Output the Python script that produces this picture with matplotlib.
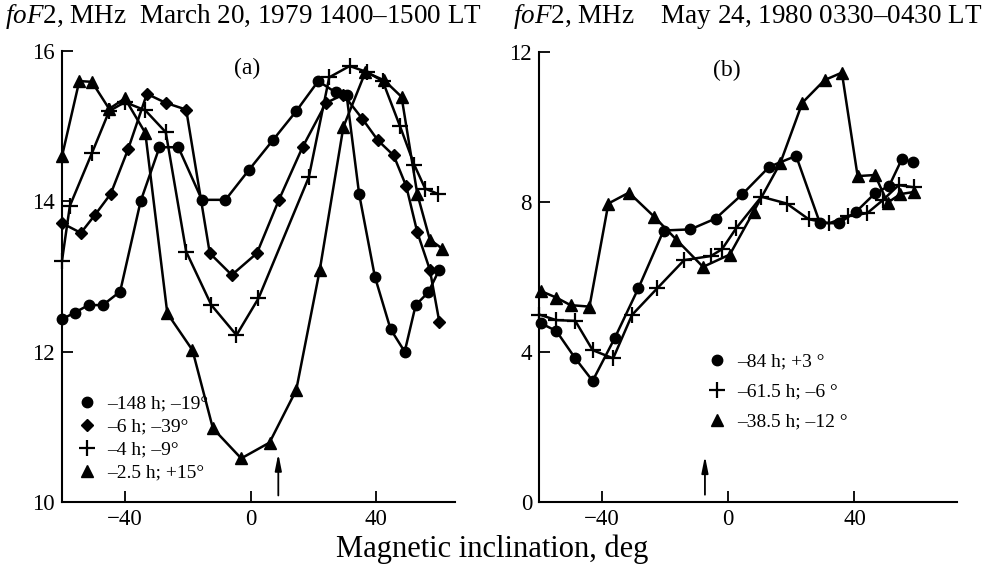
import matplotlib
matplotlib.use('Agg')
import matplotlib.pyplot as plt
from matplotlib.lines import Line2D

plt.rcParams['font.family'] = ['Liberation Serif', 'DejaVu Serif']
plt.rcParams['mathtext.fontset'] = 'custom'
plt.rcParams['mathtext.rm'] = 'Liberation Serif'
plt.rcParams['mathtext.it'] = 'Liberation Serif:italic'

# ---- panel (a): March 20, 1979 ----
circ_a_x = [-60, -56, -51.5, -47, -41.5, -35, -29, -23, -15.5, -8, -0.5, 7, 14.5, 21.5, 27, 30.5,
            34.5, 39.5, 44.5, 49, 52.5, 56.5, 60]
circ_a_y = [12.43, 12.52, 12.62, 12.62, 12.8, 14.0, 14.72, 14.72, 14.02, 14.02, 14.42, 14.81, 15.2, 15.6,
            15.45, 15.42, 14.1, 13.0, 12.3, 12.0, 12.62, 12.79, 13.09]

diam_a_x = [-60, -54, -49.5, -44.5, -39, -33, -27, -20.5, -13, -6, 2, 9, 16.5, 24, 29.5,
            35.5, 40.5, 45.5, 49.5, 53, 57, 60]
diam_a_y = [13.71, 13.58, 13.82, 14.1, 14.69, 15.43, 15.31, 15.22, 13.31, 13.02, 13.31, 14.02, 14.72,
            15.31, 15.42, 15.1, 14.81, 14.61, 14.2, 13.59, 13.09, 12.4]

cross_a_x = [-60, -57.5, -50.5, -45, -40, -33.5, -27, -20.5, -12.5, -4.5, 2.5, 18.5, 25, 31.5,
             37, 42, 47.5, 52, 55.5, 59.5]
cross_a_y = [13.21, 13.94, 14.64, 15.2, 15.32, 15.21, 14.92, 13.33, 12.62, 12.22, 12.71, 14.32, 15.65,
             15.8, 15.72, 15.6, 15.0, 14.49, 14.17, 14.1]

tri_a_x = [-60, -54.5, -50.5, -45, -40, -33.5, -26.5, -18.5, -12, -3, 6, 14.5, 22, 29.5, 36.5,
           42.5, 48, 53, 57, 61]
tri_a_y = [14.6, 15.6, 15.59, 15.23, 15.37, 14.91, 12.51, 12.02, 10.98, 10.58, 10.79, 11.49, 13.09,
           14.99, 15.72, 15.61, 15.39, 14.1, 13.49, 13.37]

labels_a = ['\u2013148 h; \u201319\u00b0', '\u20136 h; \u201339\u00b0',
            '\u20134 h; \u20139\u00b0', '\u20132.5 h; +15\u00b0']

# ---- panel (b): May 24, 1980 ----
circ_b_x = [-59.5, -54.5, -48.5, -43, -36, -28.5, -20.5, -12, -4, 4.5, 13, 21.5, 29, 35, 40.5,
            46.5, 51, 55, 58.5]
circ_b_y = [4.77, 4.56, 3.83, 3.23, 4.37, 5.7, 7.24, 7.27, 7.56, 8.21, 8.94, 9.23, 7.45, 7.43, 7.74,
            8.23, 8.43, 9.14, 9.07]

cross_b_x = [-60, -54.5, -48.5, -43, -36.5, -30.5, -22.5, -14, -5.5, -2, 2.5, 10.5, 18.5, 25.5,
             32, 38, 44, 49, 54, 59]
cross_b_y = [5.0, 4.85, 4.83, 4.05, 3.83, 4.99, 5.7, 6.45, 6.56, 6.74, 7.3, 8.14, 7.96, 7.54,
             7.43, 7.63, 7.7, 8.05, 8.45, 8.39]

tri_b_x = [-59.5, -54.5, -50, -44, -38, -31.5, -23.5, -16.5, -8, 0.5, 8, 16.5, 23.5, 30.5, 36,
           41, 46.5, 50.5, 54.5, 59]
tri_b_y = [5.63, 5.45, 5.25, 5.21, 7.96, 8.25, 7.61, 7.0, 6.27, 6.6, 7.74, 9.04, 10.65, 11.25,
           11.45, 8.69, 8.72, 7.98, 8.21, 8.27]

labels_b = ['\u201384 h; +3 \u00b0', '\u201361.5 h; \u20136 \u00b0', '\u201338.5 h; \u201312 \u00b0']

arrow_a = 8.8
arrow_b = -7.4

fig = plt.figure(figsize=(9.86, 5.64), dpi=100)
ax1 = fig.add_axes([62 / 986, 62 / 564, 393 / 986, 451 / 564])
ax2 = fig.add_axes([539 / 986, 62 / 564, 418 / 986, 450 / 564])

lw = 1.8
styles = {
    'o': dict(marker='o', ms=7.5),
    'D': dict(marker='D', ms=6.5),
    '+': dict(marker='+', ms=12, mew=1.6),
    '^': dict(marker='^', ms=8.5),
}


def draw(ax, x, y, m):
    ax.plot(x, y, color='k', lw=lw, mec='k', mfc='k', clip_on=False, **styles[m])


draw(ax1, circ_a_x, circ_a_y, 'o')
draw(ax1, diam_a_x, diam_a_y, 'D')
draw(ax1, cross_a_x, cross_a_y, '+')
draw(ax1, tri_a_x, tri_a_y, '^')

draw(ax2, circ_b_x, circ_b_y, 'o')
draw(ax2, cross_b_x, cross_b_y, '+')
draw(ax2, tri_b_x, tri_b_y, '^')

ax1.set_xlim(-60, 65)
ax1.set_ylim(10, 16)
ax1.set_yticks([10, 12, 14, 16])
ax2.set_xlim(-60, 72.5)
ax2.set_ylim(0, 12)
ax2.set_yticks([0, 4, 8, 12])

for ax in (ax1, ax2):
    ax.set_xticks([-40, 0, 40])
    ax.set_xticklabels(['\u221240', '0', '40'])
    for s in ('top', 'right'):
        ax.spines[s].set_visible(False)
    for s in ('left', 'bottom'):
        ax.spines[s].set_linewidth(1.5)
    ax.tick_params(direction='in', length=8, width=1.3, labelsize=16.5, pad=5)
    ax.set_facecolor('none')

arrow_style = '-|>,head_length=0.7,head_width=0.14'
ax1.annotate('', xy=(arrow_a, 10.68), xytext=(arrow_a, 10.05),
             arrowprops=dict(arrowstyle=arrow_style, color='k', lw=1.3, mutation_scale=14))
ax2.annotate('', xy=(arrow_b, 1.3), xytext=(arrow_b, 0.12),
             arrowprops=dict(arrowstyle=arrow_style, color='k', lw=1.3, mutation_scale=14))

ax1.text(0.47, 0.962, '(a)', transform=ax1.transAxes, ha='center', va='center', fontsize=17)
ax2.text(0.449, 0.96, '(b)', transform=ax2.transAxes, ha='center', va='center', fontsize=17)


def handles(ms_list):
    return [Line2D([], [], ls='none', color='k', mec='k', mfc='k', **styles[m]) for m in ms_list]


ax1.legend(handles(['o', 'D', '+', '^']), labels_a, loc='upper left',
           bbox_to_anchor=(16 / 393, 107 / 451), frameon=False, fontsize=14,
           handlelength=0.9, handletextpad=0.6, labelspacing=0.28, borderpad=0,
           borderaxespad=0)
ax2.legend(handles(['o', '+', '^']), labels_b, loc='upper left',
           bbox_to_anchor=(169 / 418, 149 / 450), frameon=False, fontsize=14,
           handlelength=0.9, handletextpad=0.6, labelspacing=0.64, borderpad=0,
           borderaxespad=0)

fig.text(5 / 986, 1 - 23 / 564, '$\\mathit{foF}$2, MHz  March 20, 1979 1400\u20131500 LT',
         fontsize=19.5, va='baseline', ha='left')
fig.text(513 / 986, 1 - 23 / 564, '$\\mathit{foF}$2, MHz    May 24, 1980 0330\u20130430 LT',
         fontsize=19.5, va='baseline', ha='left')
fig.text(492 / 986, 1 - 557 / 564, 'Magnetic inclination, deg', fontsize=22,
         ha='center', va='baseline')

fig.savefig('out.png', dpi=100)
